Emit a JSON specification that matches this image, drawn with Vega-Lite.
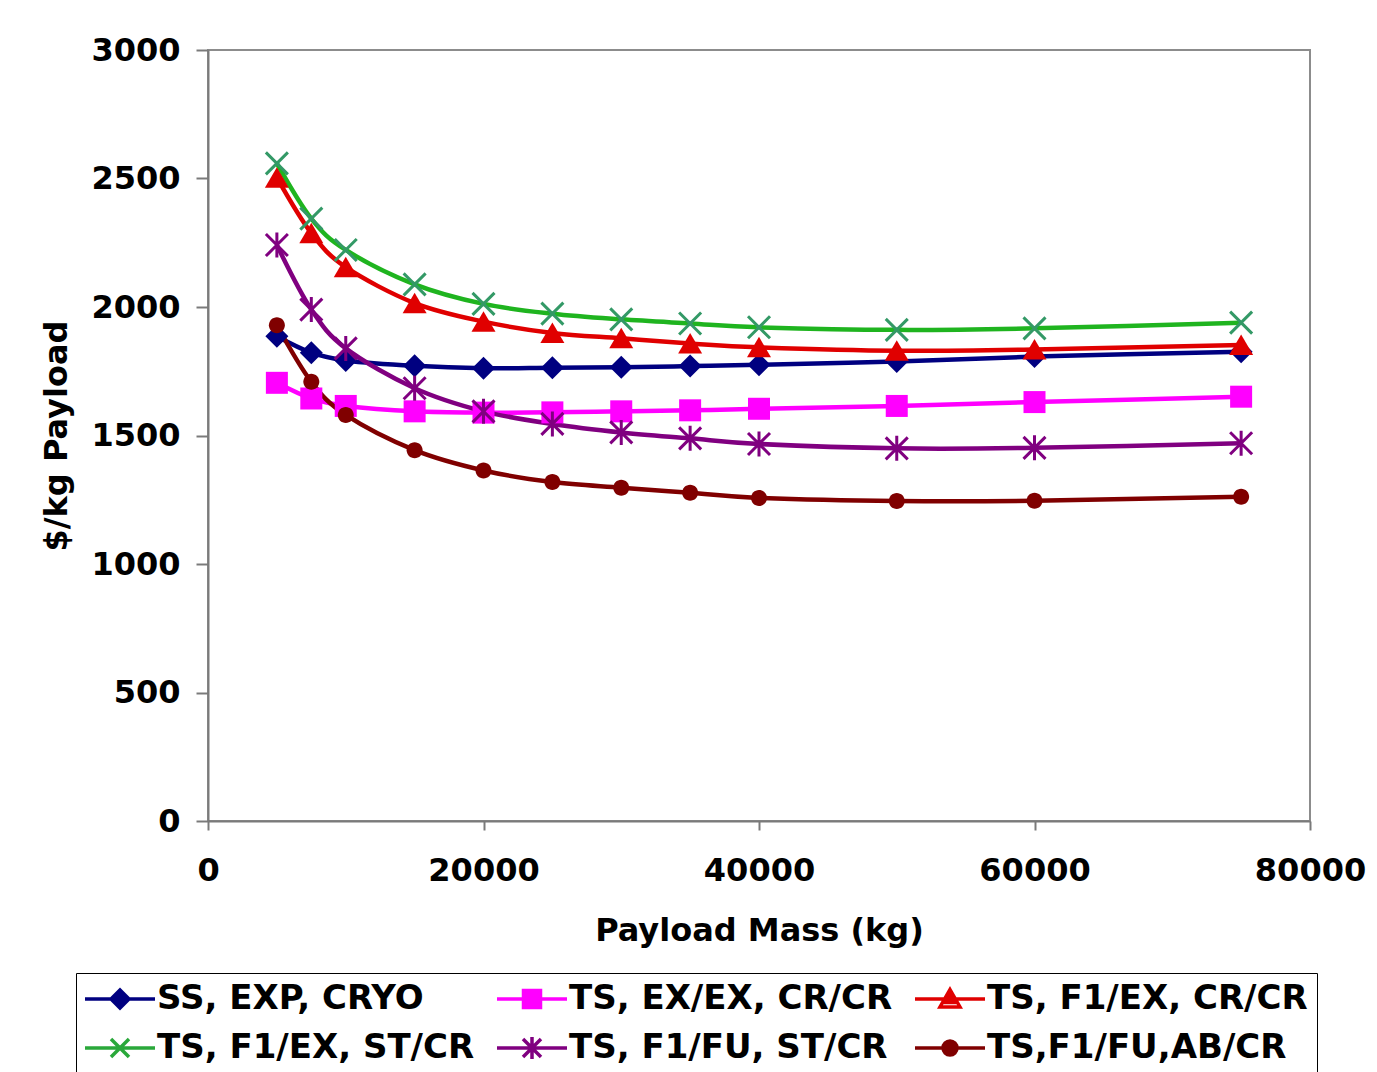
{
  "$schema": "https://vega.github.io/schema/vega-lite/v6.json",
  "width": 1102,
  "height": 771,
  "autosize": {"type": "none"},
  "padding": {"left": 208, "top": 50, "right": 67, "bottom": 251},
  "background": "white",
  "config": {
    "view": {"stroke": "#8c8c8c", "strokeWidth": 2},
    "font": "DejaVu Sans",
    "axis": {
      "labelFont": "DejaVu Sans", "labelFontSize": 32, "labelFontWeight": "bold", "labelColor": "#000000",
      "titleFont": "DejaVu Sans", "titleFontSize": 32, "titleFontWeight": "bold", "titleColor": "#000000",
      "grid": false, "domainColor": "#7a7a7a", "domainWidth": 2, "tickColor": "#7a7a7a", "tickWidth": 2,
      "labelFlush": false, "labelOverlap": false
    }
  },
  "data": {
    "values": [
      {"mass": 5000, "cost": 1886, "series": "SS, EXP, CRYO"},
      {"mass": 7500, "cost": 1822, "series": "SS, EXP, CRYO"},
      {"mass": 10000, "cost": 1792, "series": "SS, EXP, CRYO"},
      {"mass": 15000, "cost": 1771, "series": "SS, EXP, CRYO"},
      {"mass": 20000, "cost": 1762, "series": "SS, EXP, CRYO"},
      {"mass": 25000, "cost": 1764, "series": "SS, EXP, CRYO"},
      {"mass": 30000, "cost": 1766, "series": "SS, EXP, CRYO"},
      {"mass": 35000, "cost": 1770, "series": "SS, EXP, CRYO"},
      {"mass": 40000, "cost": 1775, "series": "SS, EXP, CRYO"},
      {"mass": 50000, "cost": 1788, "series": "SS, EXP, CRYO"},
      {"mass": 60000, "cost": 1807, "series": "SS, EXP, CRYO"},
      {"mass": 75000, "cost": 1826, "series": "SS, EXP, CRYO"},
      {"mass": 5000, "cost": 1705, "series": "TS, EX/EX, CR/CR"},
      {"mass": 7500, "cost": 1644, "series": "TS, EX/EX, CR/CR"},
      {"mass": 10000, "cost": 1615, "series": "TS, EX/EX, CR/CR"},
      {"mass": 15000, "cost": 1594, "series": "TS, EX/EX, CR/CR"},
      {"mass": 20000, "cost": 1589, "series": "TS, EX/EX, CR/CR"},
      {"mass": 25000, "cost": 1590, "series": "TS, EX/EX, CR/CR"},
      {"mass": 30000, "cost": 1594, "series": "TS, EX/EX, CR/CR"},
      {"mass": 35000, "cost": 1598, "series": "TS, EX/EX, CR/CR"},
      {"mass": 40000, "cost": 1604, "series": "TS, EX/EX, CR/CR"},
      {"mass": 50000, "cost": 1615, "series": "TS, EX/EX, CR/CR"},
      {"mass": 60000, "cost": 1630, "series": "TS, EX/EX, CR/CR"},
      {"mass": 75000, "cost": 1651, "series": "TS, EX/EX, CR/CR"},
      {"mass": 5000, "cost": 2503, "series": "TS, F1/EX, CR/CR"},
      {"mass": 7500, "cost": 2287, "series": "TS, F1/EX, CR/CR"},
      {"mass": 10000, "cost": 2155, "series": "TS, F1/EX, CR/CR"},
      {"mass": 15000, "cost": 2015, "series": "TS, F1/EX, CR/CR"},
      {"mass": 20000, "cost": 1943, "series": "TS, F1/EX, CR/CR"},
      {"mass": 25000, "cost": 1899, "series": "TS, F1/EX, CR/CR"},
      {"mass": 30000, "cost": 1878, "series": "TS, F1/EX, CR/CR"},
      {"mass": 35000, "cost": 1858, "series": "TS, F1/EX, CR/CR"},
      {"mass": 40000, "cost": 1843, "series": "TS, F1/EX, CR/CR"},
      {"mass": 50000, "cost": 1830, "series": "TS, F1/EX, CR/CR"},
      {"mass": 60000, "cost": 1835, "series": "TS, F1/EX, CR/CR"},
      {"mass": 75000, "cost": 1852, "series": "TS, F1/EX, CR/CR"},
      {"mass": 5000, "cost": 2559, "series": "TS, F1/EX, ST/CR"},
      {"mass": 7500, "cost": 2344, "series": "TS, F1/EX, ST/CR"},
      {"mass": 10000, "cost": 2222, "series": "TS, F1/EX, ST/CR"},
      {"mass": 15000, "cost": 2088, "series": "TS, F1/EX, ST/CR"},
      {"mass": 20000, "cost": 2012, "series": "TS, F1/EX, ST/CR"},
      {"mass": 25000, "cost": 1974, "series": "TS, F1/EX, ST/CR"},
      {"mass": 30000, "cost": 1952, "series": "TS, F1/EX, ST/CR"},
      {"mass": 35000, "cost": 1936, "series": "TS, F1/EX, ST/CR"},
      {"mass": 40000, "cost": 1921, "series": "TS, F1/EX, ST/CR"},
      {"mass": 50000, "cost": 1911, "series": "TS, F1/EX, ST/CR"},
      {"mass": 60000, "cost": 1917, "series": "TS, F1/EX, ST/CR"},
      {"mass": 75000, "cost": 1939, "series": "TS, F1/EX, ST/CR"},
      {"mass": 5000, "cost": 2241, "series": "TS, F1/FU, ST/CR"},
      {"mass": 7500, "cost": 1990, "series": "TS, F1/FU, ST/CR"},
      {"mass": 10000, "cost": 1839, "series": "TS, F1/FU, ST/CR"},
      {"mass": 15000, "cost": 1684, "series": "TS, F1/FU, ST/CR"},
      {"mass": 20000, "cost": 1594, "series": "TS, F1/FU, ST/CR"},
      {"mass": 25000, "cost": 1545, "series": "TS, F1/FU, ST/CR"},
      {"mass": 30000, "cost": 1512, "series": "TS, F1/FU, ST/CR"},
      {"mass": 35000, "cost": 1489, "series": "TS, F1/FU, ST/CR"},
      {"mass": 40000, "cost": 1467, "series": "TS, F1/FU, ST/CR"},
      {"mass": 50000, "cost": 1450, "series": "TS, F1/FU, ST/CR"},
      {"mass": 60000, "cost": 1452, "series": "TS, F1/FU, ST/CR"},
      {"mass": 75000, "cost": 1470, "series": "TS, F1/FU, ST/CR"},
      {"mass": 5000, "cost": 1929, "series": "TS,F1/FU,AB/CR"},
      {"mass": 7500, "cost": 1709, "series": "TS,F1/FU,AB/CR"},
      {"mass": 10000, "cost": 1580, "series": "TS,F1/FU,AB/CR"},
      {"mass": 15000, "cost": 1443, "series": "TS,F1/FU,AB/CR"},
      {"mass": 20000, "cost": 1364, "series": "TS,F1/FU,AB/CR"},
      {"mass": 25000, "cost": 1319, "series": "TS,F1/FU,AB/CR"},
      {"mass": 30000, "cost": 1297, "series": "TS,F1/FU,AB/CR"},
      {"mass": 35000, "cost": 1277, "series": "TS,F1/FU,AB/CR"},
      {"mass": 40000, "cost": 1257, "series": "TS,F1/FU,AB/CR"},
      {"mass": 50000, "cost": 1245, "series": "TS,F1/FU,AB/CR"},
      {"mass": 60000, "cost": 1246, "series": "TS,F1/FU,AB/CR"},
      {"mass": 75000, "cost": 1262, "series": "TS,F1/FU,AB/CR"}
    ]
  },
  "encoding": {
    "x": {
      "field": "mass", "type": "quantitative",
      "scale": {"domain": [0, 80000], "nice": false},
      "axis": {"values": [0, 20000, 40000, 60000, 80000], "format": "d", "tickSize": 9, "labelPadding": 25, "title": "Payload Mass (kg)", "titlePadding": 29}
    },
    "y": {
      "field": "cost", "type": "quantitative",
      "scale": {"domain": [0, 3000], "nice": false},
      "axis": {"values": [0, 500, 1000, 1500, 2000, 2500, 3000], "format": "d", "tickSize": 12, "labelPadding": 16, "title": "$/kg Payload", "titlePadding": 17}
    }
  },
  "layer": [
    {
      "mark": {"type": "line", "interpolate": "cardinal", "strokeWidth": 4.5},
      "encoding": {
        "color": {
          "field": "series", "type": "nominal", "legend": null,
          "scale": {
            "domain": ["SS, EXP, CRYO", "TS, EX/EX, CR/CR", "TS, F1/EX, CR/CR", "TS, F1/EX, ST/CR", "TS, F1/FU, ST/CR", "TS,F1/FU,AB/CR"],
            "range": ["#000080", "#ff00ff", "#e00000", "#1fb41f", "#800080", "#800000"]
          }
        }
      }
    },
    {
      "transform": [{"filter": {"field": "series", "oneOf": ["SS, EXP, CRYO", "TS, EX/EX, CR/CR", "TS, F1/EX, CR/CR", "TS,F1/FU,AB/CR"]}}],
      "mark": {"type": "point", "filled": true, "size": 400, "opacity": 1, "strokeWidth": 0},
      "encoding": {
        "color": {
          "field": "series", "type": "nominal", "legend": null,
          "scale": {
            "domain": ["SS, EXP, CRYO", "TS, EX/EX, CR/CR", "TS, F1/EX, CR/CR", "TS, F1/EX, ST/CR", "TS, F1/FU, ST/CR", "TS,F1/FU,AB/CR"],
            "range": ["#000080", "#ff00ff", "#e00000", "#339966", "#800080", "#800000"]
          }
        },
        "shape": {
          "field": "series", "type": "nominal", "legend": null,
          "scale": {
            "domain": ["SS, EXP, CRYO", "TS, EX/EX, CR/CR", "TS, F1/EX, CR/CR", "TS, F1/EX, ST/CR", "TS, F1/FU, ST/CR", "TS,F1/FU,AB/CR"],
            "range": [
              "M0,-1.15L1.15,0L0,1.15L-1.15,0Z",
              "M-1.1,-1.1H1.1V1.1H-1.1Z",
              "M0,-1.05L1.2,1H-1.2Z",
              "M-1.1,-1.1L1.1,1.1M-1.1,1.1L1.1,-1.1",
              "M-1.1,-1.1L1.1,1.1M-1.1,1.1L1.1,-1.1M0,-1.25V1.25",
              "M-0.8,0A0.8,0.8,0,1,1,0.8,0A0.8,0.8,0,1,1,-0.8,0Z"
            ]
          }
        }
      }
    },
    {
      "transform": [{"filter": {"field": "series", "oneOf": ["TS, F1/EX, ST/CR", "TS, F1/FU, ST/CR"]}}],
      "mark": {"type": "point", "filled": false, "size": 400, "opacity": 1, "strokeWidth": 3},
      "encoding": {
        "color": {
          "field": "series", "type": "nominal", "legend": null,
          "scale": {
            "domain": ["SS, EXP, CRYO", "TS, EX/EX, CR/CR", "TS, F1/EX, CR/CR", "TS, F1/EX, ST/CR", "TS, F1/FU, ST/CR", "TS,F1/FU,AB/CR"],
            "range": ["#000080", "#ff00ff", "#e00000", "#339966", "#800080", "#800000"]
          }
        },
        "shape": {
          "field": "series", "type": "nominal", "legend": null,
          "scale": {
            "domain": ["SS, EXP, CRYO", "TS, EX/EX, CR/CR", "TS, F1/EX, CR/CR", "TS, F1/EX, ST/CR", "TS, F1/FU, ST/CR", "TS,F1/FU,AB/CR"],
            "range": [
              "M0,-1.15L1.15,0L0,1.15L-1.15,0Z",
              "M-1.1,-1.1H1.1V1.1H-1.1Z",
              "M0,-1.05L1.2,1H-1.2Z",
              "M-1.1,-1.1L1.1,1.1M-1.1,1.1L1.1,-1.1",
              "M-1.1,-1.1L1.1,1.1M-1.1,1.1L1.1,-1.1M0,-1.25V1.25",
              "M-0.8,0A0.8,0.8,0,1,1,0.8,0A0.8,0.8,0,1,1,-0.8,0Z"
            ]
          }
        }
      }
    },
    {
      "transform": [{"filter": "datum.mass < 0"}],
      "mark": {"type": "point", "filled": false, "size": 400, "opacity": 1, "strokeWidth": 3.5},
      "encoding": {
        "color": {
          "field": "series", "type": "nominal",
          "scale": {
            "domain": ["SS, EXP, CRYO", "TS, EX/EX, CR/CR", "TS, F1/EX, CR/CR", "TS, F1/EX, ST/CR", "TS, F1/FU, ST/CR", "TS,F1/FU,AB/CR"],
            "range": ["#000080", "#ff00ff", "#e00000", "#2aa83a", "#800080", "#800000"]
          },
          "legend": {
            "title": null, "orient": "none", "legendX": -132, "legendY": 923, "columns": 3, "direction": "horizontal",
            "strokeColor": "#000000", "fillColor": "#ffffff", "padding": 9,
            "labelFont": "DejaVu Sans", "labelFontSize": 34, "labelFontWeight": "bold", "labelColor": "#000000", "labelLimit": 600,
            "symbolSize": 400, "symbolStrokeWidth": 3.5, "symbolOffset": 18, "labelOffset": 20,
            "columnPadding": 15, "rowPadding": 14, "symbolOpacity": 1
          }
        },
        "shape": {
          "field": "series", "type": "nominal",
          "scale": {
            "domain": ["SS, EXP, CRYO", "TS, EX/EX, CR/CR", "TS, F1/EX, CR/CR", "TS, F1/EX, ST/CR", "TS, F1/FU, ST/CR", "TS,F1/FU,AB/CR"],
            "range": [
              "M-3.5,0H3.5M0,-0.9L0.9,0L0,0.9L-0.9,0ZM0,-0.6L0.6,0L0,0.6L-0.6,0ZM0,-0.3L0.3,0L0,0.3L-0.3,0Z",
              "M-3.5,0H3.5M-0.85,-0.85H0.85V0.85H-0.85ZM-0.55,-0.55H0.55V0.55H-0.55ZM-0.25,-0.25H0.25V0.25H-0.25Z",
              "M-3.5,0H3.5M0,-0.95L1,0.8H-1ZM-0.23,-0.55H0.23M-0.4,-0.25H0.4M-0.57,0.05H0.57M-0.74,0.35H0.74",
              "M-3.5,0H3.5M-0.9,-0.9L0.9,0.9M-0.9,0.9L0.9,-0.9",
              "M-3.5,0H3.5M-0.9,-0.9L0.9,0.9M-0.9,0.9L0.9,-0.9M0,-1.1V1.1",
              "M-3.5,0H3.5M-0.7,0A0.7,0.7,0,1,1,0.7,0A0.7,0.7,0,1,1,-0.7,0ZM-0.4,0A0.4,0.4,0,1,1,0.4,0A0.4,0.4,0,1,1,-0.4,0ZM-0.12,0A0.12,0.12,0,1,1,0.12,0A0.12,0.12,0,1,1,-0.12,0Z"
            ]
          },
          "legend": {
            "title": null, "orient": "none", "legendX": -132, "legendY": 923, "columns": 3, "direction": "horizontal",
            "strokeColor": "#000000", "fillColor": "#ffffff", "padding": 9,
            "labelFont": "DejaVu Sans", "labelFontSize": 34, "labelFontWeight": "bold", "labelColor": "#000000", "labelLimit": 600,
            "symbolSize": 400, "symbolStrokeWidth": 3.5, "symbolOffset": 18, "labelOffset": 20,
            "columnPadding": 15, "rowPadding": 14, "symbolOpacity": 1
          }
        }
      }
    }
  ],
  "resolve": {"scale": {"color": "independent", "shape": "independent"}}
}
